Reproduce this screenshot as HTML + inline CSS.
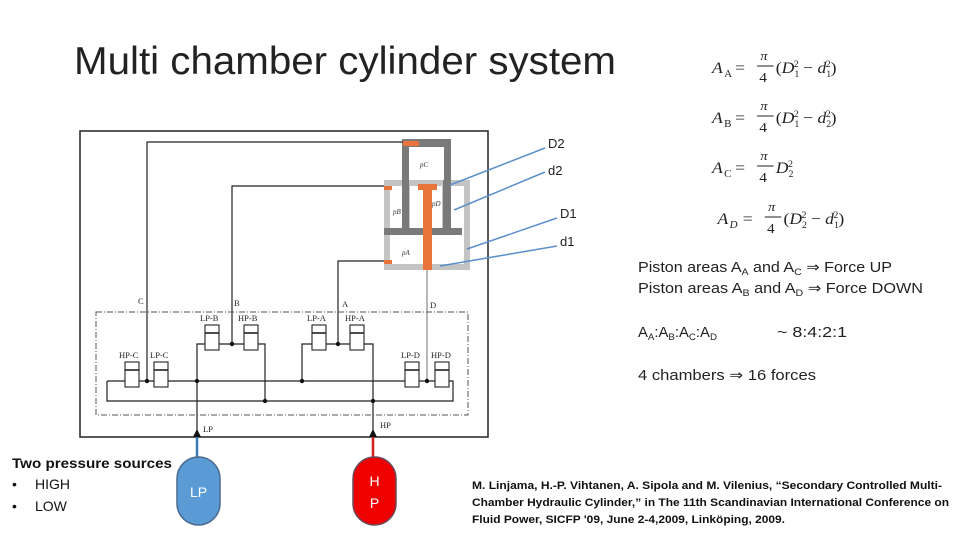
<!DOCTYPE html>
<html><head><meta charset="utf-8"><style>
html,body{margin:0;padding:0;background:#fff;}
svg{display:block}
</style></head><body>
<svg width="960" height="540" viewBox="0 0 960 540" xmlns="http://www.w3.org/2000/svg" font-family="Liberation Sans, sans-serif">
<rect width="960" height="540" fill="#fff"/>
<text x="74" y="74" font-size="39" fill="#222" textLength="542" lengthAdjust="spacingAndGlyphs">Multi chamber cylinder system</text>

<!-- frame -->
<rect x="80" y="131" width="408" height="306" fill="none" stroke="#222" stroke-width="1.5"/>

<!-- cylinder -->
<rect x="384" y="180" width="86" height="90" fill="#c4c4c4"/>
<rect x="390" y="186" width="74" height="78" fill="#fff"/>
<rect x="384" y="228" width="78" height="7" fill="#7a7a7a"/>
<rect x="402" y="139" width="49" height="96" fill="#7a7a7a"/>
<rect x="409" y="147" width="35" height="33" fill="#fff"/>
<rect x="409" y="180" width="34" height="48" fill="#c4c4c4"/>
<rect x="410" y="186" width="32" height="42" fill="#fff"/>
<rect x="390" y="186" width="12" height="42" fill="#fff"/>
<rect x="451" y="186" width="13" height="42" fill="#fff"/>
<rect x="390" y="235" width="33" height="29" fill="#fff"/>
<rect x="432" y="235" width="32" height="29" fill="#fff"/>
<rect x="418" y="184" width="19" height="6" fill="#e8743b"/>
<rect x="423" y="186" width="9" height="84" fill="#e8743b"/>
<rect x="403" y="141" width="16" height="5" fill="#e8743b"/>
<rect x="384" y="186" width="8" height="4" fill="#e8743b"/>
<rect x="384" y="260" width="8" height="4" fill="#e8743b"/>
<g font-size="7" font-style="italic" fill="#333" font-family="Liberation Serif, serif">
<text x="420" y="167">pC</text><text x="432" y="206">pD</text><text x="393" y="214">pB</text><text x="402" y="255">pA</text></g>

<!-- hydraulic lines -->
<g stroke="#222" stroke-width="1.2" fill="none">
<polyline points="147,381 147,142 403,142"/>
<polyline points="232,344 232,186 384,186"/>
<polyline points="338,344 338,261 384,261"/>
<line x1="427" y1="270" x2="427" y2="381" stroke="#888"/>
<polyline points="107,381 453,381 453,401 107,401 107,381"/>
<polyline points="197,437 197,344 265,344 265,401"/>
<polyline points="373,437 373,344 302,344 302,381"/>
</g>
<rect x="96" y="312" width="372" height="103" fill="none" stroke="#555" stroke-width="1" stroke-dasharray="6,2,1,2"/>
<g fill="#111">
<circle cx="147" cy="381" r="2.2"/><circle cx="232" cy="344" r="2.2"/><circle cx="338" cy="344" r="2.2"/>
<circle cx="427" cy="381" r="2.2"/><circle cx="197" cy="381" r="2.2"/><circle cx="302" cy="381" r="2.2"/>
<circle cx="265" cy="401" r="2.2"/><circle cx="373" cy="401" r="2.2"/>
<polygon points="193,437 201,437 197,429"/><polygon points="369,437 377,437 373,429"/>
</g>

<!-- valves -->
<g stroke="#222" stroke-width="1.1" fill="#fff">
<rect x="205" y="325" width="14" height="25"/><rect x="244" y="325" width="14" height="25"/>
<rect x="312" y="325" width="14" height="25"/><rect x="350" y="325" width="14" height="25"/>
<rect x="125" y="362" width="14" height="25"/><rect x="154" y="362" width="14" height="25"/>
<rect x="405" y="362" width="14" height="25"/><rect x="435" y="362" width="14" height="25"/>
</g>
<g stroke="#222" stroke-width="1.6">
<line x1="205" y1="333" x2="219" y2="333"/><line x1="244" y1="333" x2="258" y2="333"/>
<line x1="312" y1="333" x2="326" y2="333"/><line x1="350" y1="333" x2="364" y2="333"/>
<line x1="125" y1="370" x2="139" y2="370"/><line x1="154" y1="370" x2="168" y2="370"/>
<line x1="405" y1="370" x2="419" y2="370"/><line x1="435" y1="370" x2="449" y2="370"/>
</g>
<g font-size="8.5" fill="#222" font-family="Liberation Serif, serif">
<text x="200" y="321">LP-B</text><text x="238" y="321">HP-B</text>
<text x="307" y="321">LP-A</text><text x="345" y="321">HP-A</text>
<text x="119" y="358">HP-C</text><text x="150" y="358">LP-C</text>
<text x="401" y="358">LP-D</text><text x="431" y="358">HP-D</text>
<text x="138" y="304">C</text><text x="234" y="306">B</text><text x="342" y="307">A</text><text x="430" y="308">D</text>
<text x="203" y="432">LP</text><text x="380" y="428">HP</text>
</g>

<!-- pointer arrows -->
<g stroke="#5b8fc9" stroke-width="1.5">
<line x1="545" y1="148" x2="450" y2="185"/><line x1="545" y1="172" x2="454" y2="210"/>
<line x1="557" y1="218" x2="467" y2="249"/><line x1="557" y1="246" x2="440" y2="266"/>
</g>
<g font-size="13" fill="#222">
<text x="548" y="148">D2</text><text x="548" y="175">d2</text><text x="560" y="218">D1</text><text x="560" y="246">d1</text>
</g>

<!-- formulas -->
<g font-family="Liberation Serif, serif" font-size="16" fill="#222" transform="translate(712,0) scale(1.1,1) translate(-712,0)">
<text x="712" y="73" font-style="italic">A</text><text x="723" y="77" font-size="10">A</text><text x="733" y="73">=</text>
<text x="756" y="60" font-size="13" font-style="italic">π</text><line x1="753" y1="66" x2="768" y2="66" stroke="#222"/><text x="755" y="82" font-size="14">4</text>
<text x="770" y="73">(<tspan font-style="italic">D</tspan><tspan font-size="9" dy="4">1</tspan><tspan font-size="9" dy="-10" dx="-5">2</tspan><tspan dy="6"> − </tspan><tspan font-style="italic">d</tspan><tspan font-size="9" dy="4">1</tspan><tspan font-size="9" dy="-10" dx="-5">2</tspan><tspan dy="6">)</tspan></text>

<text x="712" y="123" font-style="italic">A</text><text x="723" y="127" font-size="10">B</text><text x="733" y="123">=</text>
<text x="756" y="110" font-size="13" font-style="italic">π</text><line x1="753" y1="116" x2="768" y2="116" stroke="#222"/><text x="755" y="132" font-size="14">4</text>
<text x="770" y="123">(<tspan font-style="italic">D</tspan><tspan font-size="9" dy="4">1</tspan><tspan font-size="9" dy="-10" dx="-5">2</tspan><tspan dy="6"> − </tspan><tspan font-style="italic">d</tspan><tspan font-size="9" dy="4">2</tspan><tspan font-size="9" dy="-10" dx="-5">2</tspan><tspan dy="6">)</tspan></text>

<text x="712" y="173" font-style="italic">A</text><text x="723" y="177" font-size="10">C</text><text x="733" y="173">=</text>
<text x="756" y="160" font-size="13" font-style="italic">π</text><line x1="753" y1="166" x2="768" y2="166" stroke="#222"/><text x="755" y="182" font-size="14">4</text>
<text x="770" y="173"><tspan font-style="italic">D</tspan><tspan font-size="9" dy="4">2</tspan><tspan font-size="9" dy="-10" dx="-5">2</tspan></text>

<text x="717" y="224" font-style="italic">A</text><text x="728" y="228" font-size="10" font-style="italic">D</text><text x="740" y="224">=</text>
<text x="763" y="211" font-size="13" font-style="italic">π</text><line x1="760" y1="217" x2="775" y2="217" stroke="#222"/><text x="762" y="233" font-size="14">4</text>
<text x="777" y="224">(<tspan font-style="italic">D</tspan><tspan font-size="9" dy="4">2</tspan><tspan font-size="9" dy="-10" dx="-5">2</tspan><tspan dy="6"> − </tspan><tspan font-style="italic">d</tspan><tspan font-size="9" dy="4">1</tspan><tspan font-size="9" dy="-10" dx="-5">2</tspan><tspan dy="6">)</tspan></text>
</g>

<!-- right text -->
<g font-size="14.5" fill="#222">
<text x="638" y="272" textLength="254" lengthAdjust="spacingAndGlyphs">Piston areas A<tspan font-size="9.5" dy="3">A</tspan><tspan dy="-3"> and A</tspan><tspan font-size="9.5" dy="3">C</tspan><tspan dy="-3"> ⇒ Force UP</tspan></text>
<text x="638" y="293" textLength="285" lengthAdjust="spacingAndGlyphs">Piston areas A<tspan font-size="9.5" dy="3">B</tspan><tspan dy="-3"> and A</tspan><tspan font-size="9.5" dy="3">D</tspan><tspan dy="-3"> ⇒ Force DOWN</tspan></text>
<text x="638" y="337" textLength="79" lengthAdjust="spacingAndGlyphs">A<tspan font-size="9.5" dy="3">A</tspan><tspan dy="-3">:A</tspan><tspan font-size="9.5" dy="3">B</tspan><tspan dy="-3">:A</tspan><tspan font-size="9.5" dy="3">C</tspan><tspan dy="-3">:A</tspan><tspan font-size="9.5" dy="3">D</tspan></text>
<text x="777" y="337" textLength="70" lengthAdjust="spacingAndGlyphs">~ 8:4:2:1</text>
<text x="638" y="380" textLength="178" lengthAdjust="spacingAndGlyphs">4 chambers ⇒ 16 forces</text>
</g>

<!-- sources -->
<g font-size="14" fill="#111">
<text x="12" y="468" font-weight="bold" textLength="160" lengthAdjust="spacingAndGlyphs">Two pressure sources</text>
<text x="12" y="489">•</text><text x="35" y="489">HIGH</text>
<text x="12" y="511">•</text><text x="35" y="511">LOW</text>
</g>
<line x1="197" y1="437" x2="197" y2="458" stroke="#3a78b0" stroke-width="2.5"/>
<line x1="373" y1="437" x2="373" y2="458" stroke="#d02020" stroke-width="2.5"/>
<rect x="177" y="457" width="43" height="68" rx="21.5" fill="#5b9bd5" stroke="#4a6a90" stroke-width="1.5"/>
<rect x="353" y="457" width="43" height="68" rx="21.5" fill="#f00000" stroke="#6a4a5a" stroke-width="1.5"/>
<text x="198.5" y="497" font-size="14" fill="#fff" text-anchor="middle">LP</text>
<text x="374.5" y="486" font-size="14" fill="#fff" text-anchor="middle">H</text>
<text x="374.5" y="508" font-size="14" fill="#fff" text-anchor="middle">P</text>

<!-- citation -->
<g font-size="11" font-weight="bold" fill="#111">
<text x="472" y="489" textLength="470" lengthAdjust="spacingAndGlyphs">M. Linjama, H.-P. Vihtanen, A. Sipola and M. Vilenius, “Secondary Controlled Multi-</text>
<text x="472" y="506" textLength="477" lengthAdjust="spacingAndGlyphs">Chamber Hydraulic Cylinder,” in The 11th Scandinavian International Conference on</text>
<text x="472" y="523" textLength="313" lengthAdjust="spacingAndGlyphs">Fluid Power, SICFP '09, June 2-4,2009, Linköping, 2009.</text>
</g>
</svg>
</body></html>
